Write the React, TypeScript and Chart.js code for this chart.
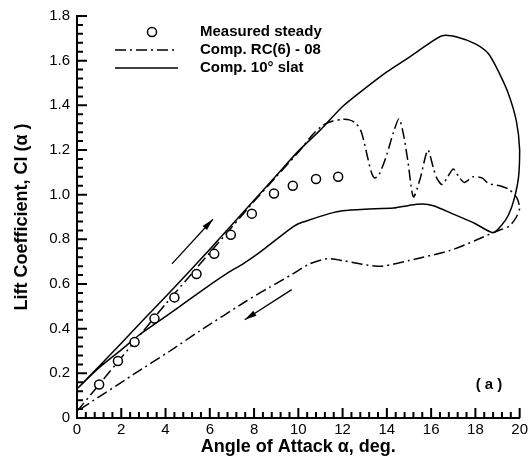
import React, { useEffect, useRef } from "react";
import { Chart, registerables } from "chart.js";

Chart.register(...registerables);

// ---------- data ----------
const measuredAlpha = [1.0, 1.85, 2.6, 3.5, 4.4, 5.4, 6.2, 6.95, 7.9, 8.9, 9.75, 10.8, 11.8];
const measuredCl = [0.15, 0.255, 0.34, 0.445, 0.54, 0.645, 0.735, 0.82, 0.915, 1.005, 1.04, 1.07, 1.08];

const rcAlpha = [
  0, 1, 2, 3, 4, 5, 6, 7, 8, 9, 10, 10.66, 11.1, 11.56, 12.0, 12.3, 12.6, 12.85, 13.1, 13.3, 13.45,
  13.65, 14.0, 14.3, 14.55, 14.75, 14.95, 15.2, 15.5, 15.85, 16.1, 16.25, 16.5, 16.75, 17.0, 17.25,
  17.5, 17.9, 18.3, 18.6, 19.1, 19.5, 19.85, 20.0, 19.85, 19.55, 19.2, 18.8, 18.0, 16.85, 15.0, 13.8,
  12.9, 12.0, 11.3, 10.5, 9.75, 8.7, 8.26, 7.67, 5.55, 4.2, 2.55, 0,
];
const rcCl = [
  0.03, 0.15, 0.27, 0.39, 0.51, 0.625, 0.74, 0.855, 0.97, 1.08, 1.19, 1.27, 1.31, 1.33, 1.337, 1.335,
  1.32, 1.28, 1.18, 1.1, 1.075, 1.09, 1.18, 1.28, 1.34, 1.27, 1.15, 0.99, 1.07, 1.2, 1.12, 1.075,
  1.045, 1.08, 1.115, 1.08, 1.055, 1.08, 1.075, 1.05, 1.04, 1.025, 0.99, 0.94, 0.9, 0.86, 0.845, 0.83,
  0.795, 0.75, 0.705, 0.68, 0.688, 0.705, 0.713, 0.69, 0.645, 0.585, 0.56, 0.525, 0.39, 0.3, 0.195,
  0.03,
];

const slatAlpha = [
  0, 1, 2, 3, 4, 5, 6, 7, 8, 9, 10, 11, 12, 13, 14, 15, 15.8, 16.5, 17.2, 18.0, 18.6, 19.1, 19.5,
  19.85, 20.0, 19.95, 19.75, 19.5, 19.2, 18.8, 18.0, 17.0, 16.1, 15.6, 15.0, 14.3, 13.0, 12.0, 11.4,
  10.6, 10.0, 9.6, 8.3, 7.5, 6.9, 5.85, 4.65, 3.5, 2.85, 2.0, 1.0, 0,
];
const slatCl = [
  0.13, 0.232, 0.335, 0.44, 0.543, 0.648, 0.755, 0.865, 0.975, 1.085, 1.195, 1.29, 1.395, 1.475,
  1.55, 1.615, 1.67, 1.712, 1.705, 1.675, 1.63, 1.54, 1.45, 1.33, 1.2, 1.08, 0.98, 0.91, 0.865, 0.83,
  0.87, 0.913, 0.95, 0.958, 0.952, 0.94, 0.935, 0.928, 0.915, 0.89, 0.87, 0.845, 0.745, 0.69, 0.655,
  0.585, 0.5, 0.42, 0.375, 0.305, 0.225, 0.13,
];

const upArrowAlpha = [4.29, 6.14];
const upArrowCl = [0.69, 0.89];
const downArrowAlpha = [9.7, 7.58];
const downArrowCl = [0.575, 0.44];

const xMinorStep = 0.4;
const yMinorStep = 0.04;

const legendLabels = ["Measured steady", "Comp. RC(6) - 08", "Comp. 10\u00b0 slat"];
const xTitle = "Angle of Attack \u03b1, deg.";
const yTitle = "Lift Coefficient, Cl (\u03b1 )";
const panelLabel = "( a )";

const toPoints = (xs: number[], ys: number[]) => xs.map((x, i) => ({ x, y: ys[i] }));

const FONT = "'Liberation Sans', Arial, Helvetica, sans-serif";
const DASHDOT = [11, 4, 2, 4];

const decorPlugin = {
  id: "decor",
  afterDraw(chart: any) {
    const ctx: CanvasRenderingContext2D = chart.ctx;
    const area = chart.chartArea;
    const xs = chart.scales["x"];
    const ys = chart.scales["y"];
    ctx.save();
    ctx.setLineDash([]);
    ctx.strokeStyle = "#000";
    ctx.fillStyle = "#000";
    // inward ticks drawn as one path
    ctx.lineWidth = 2;
    ctx.beginPath();
    for (let i = 0; i <= 50; i++) {
      const px = xs.getPixelForValue(i * xMinorStep);
      const len = i % 5 === 0 ? 10 : 6;
      ctx.moveTo(px, area.bottom);
      ctx.lineTo(px, area.bottom - len);
    }
    for (let i = 0; i <= 45; i++) {
      const py = ys.getPixelForValue(i * yMinorStep);
      const len = i % 5 === 0 ? 10 : 6;
      ctx.moveTo(area.left, py);
      ctx.lineTo(area.left + len, py);
    }
    ctx.stroke();

    // arrows
    const drawArrow = (ax: number[], ay: number[]) => {
      const x0 = xs.getPixelForValue(ax[0]);
      const y0 = ys.getPixelForValue(ay[0]);
      const x1 = xs.getPixelForValue(ax[1]);
      const y1 = ys.getPixelForValue(ay[1]);
      ctx.lineWidth = 1.3;
      ctx.beginPath();
      ctx.moveTo(x0, y0);
      ctx.lineTo(x1, y1);
      ctx.stroke();
      const ang = Math.atan2(y1 - y0, x1 - x0);
      const L = 12;
      const W = 3;
      ctx.beginPath();
      ctx.moveTo(x1, y1);
      ctx.lineTo(x1 - L * Math.cos(ang) + W * Math.sin(ang), y1 - L * Math.sin(ang) - W * Math.cos(ang));
      ctx.lineTo(x1 - L * Math.cos(ang) - W * Math.sin(ang), y1 - L * Math.sin(ang) + W * Math.cos(ang));
      ctx.closePath();
      ctx.fill();
    };
    drawArrow(upArrowAlpha, upArrowCl);
    drawArrow(downArrowAlpha, downArrowCl);

    // legend
    const rows = [32, 50, 68];
    const lx0 = 115;
    const lx1 = 178;
    const tx = 200;
    ctx.font = `bold 15px ${FONT}`;
    ctx.textBaseline = "middle";
    ctx.textAlign = "left";
    ctx.lineWidth = 1.5;
    ctx.beginPath();
    ctx.arc(152, rows[0], 4.5, 0, Math.PI * 2);
    ctx.fillStyle = "#fff";
    ctx.fill();
    ctx.stroke();
    ctx.fillStyle = "#000";
    ctx.fillText(legendLabels[0], tx, rows[0]);
    ctx.setLineDash(DASHDOT);
    ctx.beginPath();
    ctx.moveTo(lx0, rows[1]);
    ctx.lineTo(lx1, rows[1]);
    ctx.stroke();
    ctx.setLineDash([]);
    ctx.fillText(legendLabels[1], tx, rows[1]);
    ctx.beginPath();
    ctx.moveTo(lx0, rows[2]);
    ctx.lineTo(lx1, rows[2]);
    ctx.stroke();
    ctx.fillText(legendLabels[2], tx, rows[2]);

    // panel label
    ctx.textAlign = "center";
    ctx.fillText(panelLabel, 489, 385);
    ctx.restore();
  },
};

export default function App() {
  const ref = useRef<HTMLCanvasElement | null>(null);
  useEffect(() => {
    if (!ref.current) return;
    Chart.defaults.font.family = FONT;
    Chart.defaults.color = "#000";
    const chart = new Chart(ref.current, {
      type: "scatter",
      data: {
        datasets: [
          {
            label: legendLabels[0],
            data: toPoints(measuredAlpha, measuredCl),
            showLine: false,
            pointRadius: 4.5,
            pointBorderWidth: 1.5,
            pointBorderColor: "#000",
            pointBackgroundColor: "#fff",
          },
          {
            label: legendLabels[1],
            data: toPoints(rcAlpha, rcCl),
            showLine: true,
            borderColor: "#000",
            borderWidth: 1.5,
            borderDash: DASHDOT,
            pointRadius: 0,
            tension: 0.25,
            clip: 6,
          },
          {
            label: legendLabels[2],
            data: toPoints(slatAlpha, slatCl),
            showLine: true,
            borderColor: "#000",
            borderWidth: 1.5,
            pointRadius: 0,
            tension: 0.25,
            clip: 6,
          },
        ],
      },
      options: {
        animation: false,
        responsive: false,
        devicePixelRatio: 1,
        layout: { padding: { left: 0, top: 14, right: 11, bottom: 0 } },
        plugins: { legend: { display: false }, tooltip: { enabled: false } },
        scales: {
          x: {
            type: "linear",
            min: 0,
            max: 20,
            grid: { display: false, drawTicks: false },
            border: { display: true, color: "#000", width: 2 },
            ticks: { stepSize: 2, padding: 3, maxRotation: 0, font: { size: 15 }, color: "#000" },
            title: {
              display: true,
              text: xTitle,
              font: { size: 18, weight: "bold" },
              color: "#000",
              padding: { top: 0, bottom: 12 },
            },
            afterFit: (s: any) => {
              s.height = 52;
            },
          },
          y: {
            type: "linear",
            min: 0,
            max: 1.8,
            grid: { display: false, drawTicks: false },
            border: { display: true, color: "#000", width: 2 },
            ticks: { stepSize: 0.2, padding: 7, font: { size: 15 }, color: "#000" },
            title: {
              display: true,
              text: yTitle,
              font: { size: 18, weight: "bold" },
              color: "#000",
              padding: { top: 11, bottom: 0 },
            },
            afterFit: (s: any) => {
              s.width = 77;
            },
          },
        },
      },
      plugins: [decorPlugin],
    });
    return () => chart.destroy();
  }, []);
  return (
    <div style={{ position: "absolute", left: 0, top: 0, width: 531, height: 470, background: "#fff" }}>
      <canvas ref={ref} width={531} height={470} style={{ display: "block" }} />
    </div>
  );
}
